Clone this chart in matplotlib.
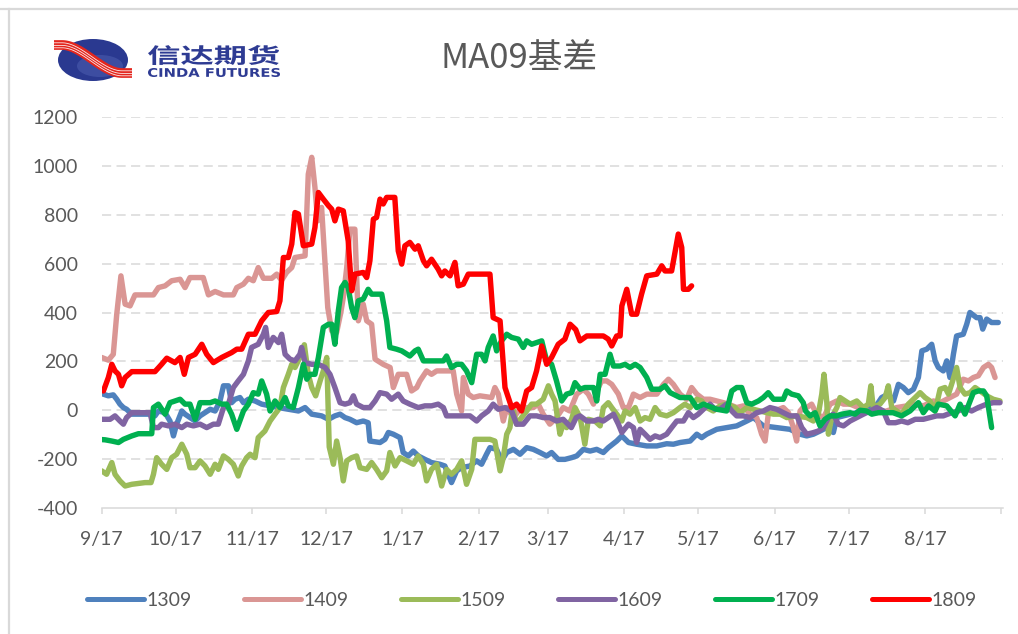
import matplotlib
matplotlib.use("Agg")
import numpy as np
import matplotlib.pyplot as plt
from matplotlib.patches import Ellipse, PathPatch
from matplotlib.textpath import TextPath
from matplotlib.font_manager import FontProperties
from matplotlib.transforms import Affine2D

plt.rcParams['font.family'] = ['Lato', 'DejaVu Sans']
plt.rcParams['axes.unicode_minus'] = False

# x = days after 9/17, y = basis
month_ticks = [0, 30, 61, 91, 122, 153, 181, 212, 242, 273, 303, 334, 365]
month_labels = ['9/17', '10/17', '11/17', '12/17', '1/17', '2/17', '3/17',
                '4/17', '5/17', '6/17', '7/17', '8/17', '']

s1309 = [(0, 68), (2.7, 59), (4.7, 63), (6.1, 45), (7.4, 25), (8.8, 11), (10.1, 4), (12.2, -16),
         (19.6, -16), (21.6, -23), (23, -3), (25.7, -10), (27.7, -44), (29.1, -105), (30.4, -57),
         (32.5, -3), (33.8, -16), (37.9, -44), (39.9, -23), (41.9, -10), (44, 4), (46, -3), (48, 38),
         (49.4, 100), (51.4, 100), (52.7, 31), (54.1, 45), (56.1, 52), (57.5, 31), (59.5, 45),
         (62.2, 38), (64.9, 25), (68.3, 18), (71.7, 11), (75.7, 4), (79.8, -3), (82.5, 11),
         (85.2, -16), (89.2, -23), (92, -37), (94.6, -23), (96.7, -16), (98.7, -30), (100.7, -37),
         (103.4, -51), (106.1, -44), (108.1, -51), (108.8, -126), (112.9, -132), (114.9, -119),
         (116.3, -91), (118.3, -98), (121, -112), (122.3, -173), (124.4, -187), (126.4, -167),
         (128.4, -187), (131.1, -201), (133.8, -214), (137.2, -221), (139.2, -228), (141.9, -296),
         (144, -248), (146, -235), (149.4, -228), (152.1, -207), (154.1, -221), (156.1, -180),
         (157.5, -153), (160.2, -160), (162.2, -207), (164.3, -173), (167, -160), (169.7, -180),
         (172.4, -153), (175.1, -160), (177.8, -173), (180.5, -187), (182.5, -173), (185.2, -201),
         (187.9, -201), (190.6, -194), (192.7, -187), (195.4, -160), (198.1, -167), (200.8, -160),
         (203.5, -173), (205.5, -153), (208.9, -126), (211, -105), (213.7, -132), (217, -139),
         (221.1, -146), (225.2, -146), (229.2, -137), (231.9, -139), (234.6, -132), (238.7, -126),
         (241.4, -98), (243.4, -112), (245.4, -98), (249.5, -78), (253.5, -71), (257.6, -64),
         (261.7, -44), (264.4, -30), (268.4, -64), (273.8, -71), (279.2, -78), (283.3, -98),
         (286, -105), (288.7, -98), (291.4, -85), (294.1, -71), (296.8, -91), (298.2, -30),
         (300.9, -23), (303.6, -16), (306.3, -10), (309, 11), (313.7, 11), (316.4, 52), (319.1, 66),
         (321.2, 38), (323.2, 106), (325.2, 93), (327.2, 72), (329.3, 86), (331.3, 134),
         (332.7, 243), (334.7, 250), (336.7, 270), (338.1, 202), (339.4, 175), (341.4, 161),
         (342.8, 202), (344.1, 134), (345.5, 229), (346.8, 304), (349.5, 311), (350.9, 352),
         (352.2, 400), (354.9, 379), (356.3, 379), (357.4, 332), (359, 373), (361, 359), (363.7, 359)]

s1409 = [(0, 216), (2.7, 205), (4.7, 229), (6.1, 393), (7.8, 550), (9.5, 434), (11.5, 427),
         (13.5, 472), (21, 472), (23, 502), (25.7, 509), (28.4, 530), (31.8, 536), (33.8, 502),
         (35.8, 543), (41.2, 543), (43.3, 472), (46, 486), (49.4, 472), (53.4, 472), (54.8, 502),
         (57.5, 516), (59.5, 540), (61.5, 530), (63.5, 584), (65.6, 540), (69, 540), (71, 557),
         (73, 532), (75, 564), (77.1, 584), (78.4, 625), (82.5, 632), (83.8, 966), (85.2, 1035),
         (86.5, 912), (87.6, 775), (89.2, 830), (90.3, 652), (91.7, 420), (93.3, 325), (95.3, 318),
         (97, 400), (98, 461), (99.4, 584), (100.7, 741), (102.7, 741), (104.1, 366), (106.1, 434),
         (107.5, 366), (109.5, 352), (110.9, 209), (114.2, 188), (117, 175), (118.3, 93),
         (120.3, 147), (123.7, 147), (125.7, 79), (127.8, 93), (129.1, 120), (131.8, 161),
         (133.8, 147), (135.9, 161), (142.6, 161), (144, 66), (146, -3), (146.7, 134), (148.7, 66),
         (150.7, 52), (153.4, 59), (158.2, 52), (159.5, 93), (160.9, 66), (162.9, -44), (164.3, 11),
         (167, -30), (170.3, 11), (175.1, 11), (177.1, 25), (179.1, -16), (181.8, -57), (184.5, -30),
         (187.2, 11), (189.9, -3), (192.7, 66), (195.4, 86), (197.4, 66), (199.5, 25), (201.5, 93),
         (202.8, 120), (204.9, 120), (206.9, 106), (209.6, 66), (211.6, 11), (213.7, 11),
         (215.7, 66), (218.4, 52), (221.1, 66), (225.2, 66), (227.9, 106), (229.9, 127),
         (231.9, 106), (234.6, 66), (237.3, 45), (239.3, 93), (241.4, 66), (244.1, 45), (246.8, 45),
         (249.5, 38), (252.2, 31), (254.2, 25), (257.6, 11), (260.3, 18), (263, -16), (265.7, -30),
         (267.7, -98), (269.1, -126), (270.4, -16), (273.1, -3), (276.5, 11), (278.6, -10),
         (280.6, -71), (281.9, -126), (283.3, -3), (284.5, 11), (286, 11), (288, 25), (290, -16),
         (292.8, -30), (295.5, 25), (298.2, 38), (300.9, 25), (303.6, 25), (307, 11), (310.3, -3),
         (314.4, -10), (318.4, -3), (322.5, 11), (326.6, 18), (330, 25), (333.3, 18), (337.4, 38),
         (340.1, 31), (344.1, 52), (346.8, 66), (349.5, 127), (351.6, 120), (353.6, 134),
         (355.6, 141), (357.7, 175), (359.7, 188), (361, 175), (362.4, 134)]

s1509 = [(0, -248), (2, -262), (4.1, -214), (5.4, -262), (7.4, -289), (9.5, -310), (12.2, -303),
         (17.6, -296), (20, -296), (21, -262), (22.3, -194), (24.3, -221), (26.4, -242),
         (28.4, -194), (30.4, -180), (32.5, -139), (34.5, -180), (35.8, -235), (37.9, -235),
         (39.9, -207), (41.9, -228), (44, -262), (46, -221), (47.3, -242), (49.4, -187),
         (51.4, -201), (53.4, -221), (55.4, -269), (56.8, -228), (58.8, -194), (60.2, -180),
         (62.2, -194), (63.5, -112), (66.2, -85), (68.3, -44), (70.3, -16), (72.3, 11), (73.7, 93),
         (75.7, 147), (77.1, 188), (78.4, 175), (80.4, 216), (82.2, 268), (83.8, 147), (85.2, 93),
         (86.8, 59), (88.6, 120), (89.9, 161), (91.3, 216), (92.3, -150), (94, -221), (95.3, -126),
         (96.7, -194), (98, -289), (99.4, -207), (101.4, -194), (103.4, -187), (104.8, -235),
         (107.5, -242), (109.5, -214), (111.5, -242), (113.6, -276), (115.6, -248), (116.9, -173),
         (119, -228), (121, -194), (123.7, -207), (126.4, -221), (128.4, -187), (130.5, -221),
         (131.8, -289), (133.8, -242), (135.9, -221), (137.9, -310), (139.9, -242), (141.9, -262),
         (144, -242), (146, -207), (148, -303), (150.1, -242), (151.4, -119), (157.5, -119),
         (159.5, -126), (161.6, -248), (162.9, -194), (164.3, -98), (165.6, -71), (166.7, 11),
         (168.3, -57), (170.3, -30), (172.4, -3), (174.4, 25), (176.4, 25), (179.1, 45),
         (181.2, 100), (182.5, 66), (183.9, 38), (185.9, -98), (187.2, -57), (188.6, -71),
         (190.6, -37), (192, 11), (194.1, -30), (196, -139), (197.4, -37), (200.1, -44),
         (202.2, -64), (203.5, 11), (205.5, 31), (206.9, 11), (208.9, -16), (211, -44), (212.3, -3),
         (214.3, -16), (216.4, 11), (218.4, -44), (220.4, -30), (222.4, -37), (224.5, 11),
         (226.5, -16), (229.2, -23), (231.9, -10), (234.6, 11), (236.6, 25), (238.7, 11),
         (241.4, 45), (243.4, 38), (245.4, 11), (248.1, -3), (250.8, 18), (253.5, 25), (256.9, 11),
         (259, -10), (261.7, 11), (264.4, 4), (267.1, -3), (269.8, -10), (272.5, -16), (275.2, -16),
         (277.9, -30), (281.9, -23), (286, -30), (288.7, -44), (290.7, -16), (292.1, 66), (293, 147),
         (294.1, 38), (294.8, -98), (296.1, -30), (298.2, 11), (299.5, 52), (301.6, 38), (303.6, 25),
         (306.3, 38), (309, 11), (311, 25), (312, 100), (313, 11), (315.7, 25), (317.8, 52),
         (319.1, 100), (320.5, 11), (322.5, -3), (324.5, -16), (327.2, 25), (330, 52), (332, 72),
         (334, 52), (336, 38), (338.1, -3), (340.1, 86), (342.1, 93), (343.5, 66), (345.2, 120),
         (346.8, 175), (348.2, 93), (350.2, 66), (352.3, 72), (354.3, 93), (356.3, 79), (359, 59),
         (361.7, 45), (364.4, 38)]

s1609 = [(0, -37), (3.4, -37), (5.4, -23), (7.4, -44), (8.8, -57), (10.1, -30), (12.2, -10),
         (19.6, -10), (21, -71), (23, -71), (24.3, -57), (27.1, -64), (29.7, -57), (32.5, -71),
         (34.5, -57), (37.2, -64), (39.9, -57), (42.6, -71), (45.3, -57), (47.3, -57), (49.4, 11),
         (51.4, 25), (53.4, 93), (55.4, 120), (57.5, 147), (59.5, 202), (60.8, 257), (63.5, 270),
         (65.6, 311), (66.5, 339), (67.6, 257), (69.6, 298), (71.7, 277), (73, 311), (74.4, 229),
         (76.4, 209), (78.4, 202), (80.4, 229), (81.1, 257), (82.5, 195), (85.2, 188), (87.9, 188),
         (90.6, 175), (92.6, 147), (94.6, 93), (96.7, 31), (98.7, 25), (100.7, 31), (102.1, 59),
         (103.4, 25), (106.1, 11), (108.8, 11), (110.9, 38), (112.9, 72), (115.6, 66), (117.6, 45),
         (120.3, 66), (122.3, 38), (125, 25), (128.4, 11), (131.1, 18), (133.8, 18), (136.5, 25),
         (138.6, 11), (139.9, -23), (149.4, -23), (152.1, -44), (154.1, -23), (156.8, -3),
         (158.8, 25), (160.9, 4), (163.6, 11), (166.3, -3), (168.3, -57), (171, -57), (173.7, -23),
         (176.4, -23), (179.1, -30), (181.8, -30), (184.5, -44), (187.2, -37), (190.5, -71),
         (192.5, -30), (194, -23), (196.8, -44), (199.5, -44), (201.5, -37), (203.5, -44),
         (205.5, -30), (207.6, -16), (209.6, -57), (211, -91), (213.7, -57), (215.7, -71),
         (217, -132), (218.4, -78), (220.4, -98), (222.4, -119), (224.5, -105), (226.5, -112),
         (229.2, -98), (231.2, -71), (233.3, -44), (236, -44), (238, -10), (240, -30), (242, -16),
         (244.8, 11), (246.8, 25), (248.8, 4), (250.8, 4), (253.5, 25), (255.6, -3), (257.6, -23),
         (260.3, -23), (263, -30), (265.7, -10), (268.4, -3), (271.1, 11), (273.8, 4), (276.5, -10),
         (279.2, -23), (282, -23), (284, -71), (286, -98), (288.5, -92), (290.7, -85), (292.8, -71),
         (294.8, -30), (296.8, -16), (298.8, -57), (300.9, -64), (303.6, -44), (306.3, -30),
         (309, -16), (311.7, -3), (314.4, 11), (317.1, -3), (319.1, -51), (322, -51), (324.5, -44),
         (327, -51), (330, -37), (333.3, -37), (336, -30), (338.7, -23), (341.4, -23), (344.8, -10),
         (347.5, -3), (350.2, 11), (352.9, -3), (355.6, 11), (359, 25), (361.7, 31), (364.4, 31)]

s1709 = [(0, -120), (1.4, -121), (4.1, -126), (6.8, -132), (8.8, -119), (12.2, -105), (14.9, -96),
         (20.3, -96), (21, 11), (23, 25), (25.7, -16), (27.7, 31), (31.8, 45), (33.8, 25),
         (35.8, 25), (37.9, -37), (39.9, 31), (44, 31), (46, 38), (48.7, 25), (50.7, 25),
         (52.7, -16), (54.8, -78), (57.5, -3), (59.5, 25), (61.5, 72), (63.5, 66), (64.9, 120),
         (66.9, 66), (68.3, -3), (70.3, 38), (72.3, 11), (74.4, 52), (75.7, 18), (77.7, 11),
         (79.8, 93), (81.8, 188), (83.2, 127), (84.5, 147), (86.5, 147), (87.9, 216), (89.9, 339),
         (92, 352), (93.3, 352), (94.6, 270), (96, 407), (97.3, 502), (98.7, 523), (100, 502),
         (101.4, 420), (102.7, 379), (104.1, 448), (106.1, 455), (108.1, 495), (109.5, 475),
         (113.6, 475), (115.6, 366), (116.9, 257), (119.6, 250), (121.7, 243), (125, 222),
         (127.1, 243), (128.4, 250), (130.5, 202), (138.6, 202), (139.9, 222), (141.9, 175),
         (144, 188), (146, 188), (148, 161), (150.1, 113), (152.1, 229), (154.1, 229), (155.5, 202),
         (156.8, 257), (158.8, 304), (160.2, 243), (162.2, 284), (164.3, 311), (166.3, 298),
         (169, 291), (171, 257), (172.4, 284), (174.4, 270), (176.4, 277), (178.5, 284),
         (180.5, 202), (182.5, 188), (184.5, 120), (186.6, 38), (188.6, 66), (190.6, 72), (192, 113),
         (194.1, 86), (196, 93), (199.5, 93), (200.8, 38), (202.2, 147), (204.2, 147), (206.2, 229),
         (207.6, 181), (210.3, 181), (212.3, 188), (214.3, 175), (216.4, 188), (218.4, 175),
         (221.1, 134), (223.1, 86), (226.5, 86), (228.5, 100), (230.6, 72), (234.6, 52),
         (238.7, 52), (241.4, 11), (244.1, 25), (249.5, 4), (253.5, -3), (255.6, 79), (257.6, 93),
         (259.6, 93), (261.7, 31), (263.7, 25), (266.4, 38), (268.4, 52), (270.4, 72), (272.5, 45),
         (276.5, 45), (277.9, 79), (279.9, 66), (282.6, 59), (284.6, 31), (285.5, -3),
         (287.4, -23), (289.4, -10), (291.4, -64), (293.4, -37), (295.5, -23), (298, -23),
         (300.2, -16), (303.6, -10), (305.6, -16), (307.6, 0), (310.3, -3), (312.4, -16),
         (315, -10), (318.4, -10), (321, -10), (324.5, -23), (327.9, -3), (331.3, 31), (333.3, -10),
         (335.4, 18), (338, -3), (339.4, 25), (342.8, 18), (346.2, -23), (348.2, 25), (350.2, -16),
         (352.3, 38), (353.6, 72), (355.6, 79), (357.7, 79), (359, 59), (360.4, -30), (361, -71)]

s1809 = [(0.7, 79), (2.7, 134), (4.1, 188), (5.4, 161), (6.8, 147), (8.1, 100), (9.5, 134),
         (12.2, 158), (21.6, 158), (24.3, 188), (26.4, 213), (29.7, 195), (31.8, 216), (33.5, 147),
         (35.2, 216), (37.9, 229), (40.6, 270), (42.6, 229), (45.3, 195), (48.7, 216), (52.7, 236),
         (54.8, 250), (56.8, 250), (59.5, 311), (62.2, 311), (64.9, 366), (67.6, 400), (71, 404),
         (72.3, 448), (73.7, 625), (75.7, 625), (77.1, 680), (78.4, 809), (79.8, 803), (81.8, 673),
         (85.2, 680), (86.5, 748), (87.9, 891), (89.9, 864), (92, 837), (93.3, 823), (94.6, 775),
         (96, 823), (98, 816), (100, 693), (101.4, 489), (102.7, 557), (106.1, 564), (107.5, 543),
         (108.8, 612), (110.2, 782), (111.5, 789), (112.9, 864), (114.2, 844), (115.6, 871),
         (118.9, 871), (120.3, 652), (121.7, 598), (123, 673), (125, 687), (127.1, 659),
         (128.4, 673), (130.5, 612), (131.8, 591), (133.8, 618), (136.5, 577), (137.9, 550),
         (139.2, 570), (141.3, 550), (143.3, 605), (144.6, 509), (146.7, 516), (148.7, 557),
         (157.5, 557), (158.8, 379), (161.6, 366), (163.6, 93), (166.3, 11), (168.3, 25),
         (170.3, -3), (172.4, 79), (174.4, 93), (176.4, 161), (178.5, 263), (180.5, 188),
         (182.5, 216), (185.2, 270), (187.9, 291), (190, 352), (192.3, 330), (194, 284),
         (196.8, 304), (203.5, 304), (205.5, 291), (206.9, 263), (208.9, 304), (210.3, 304),
         (211, 427), (213, 495), (215, 393), (217, 393), (219, 475), (221.1, 550), (225.2, 557),
         (227.2, 591), (228.5, 570), (231.2, 570), (233.9, 721), (235.3, 666), (236, 495),
         (238, 495), (239.3, 509)]

names = ['1309', '1409', '1509', '1609', '1709', '1809']
colors = ['#4F81BD', '#DA9694', '#9BBB59', '#8064A2', '#00B050', '#FF0000']
all_series = [s1309, s1409, s1509, s1609, s1709, s1809]

W, H = 1018, 634
fig = plt.figure(figsize=(W / 100, H / 100), dpi=100)
fig.patch.set_facecolor('white')

# overlay in pixel coords for frame + logo
ov = fig.add_axes([0, 0, 1, 1])
ov.set_xlim(0, W)
ov.set_ylim(H, 0)
ov.axis('off')
ov.plot([0, W], [9, 9], color='#d9d9d9', lw=1.6)
ov.plot([9.5, 9.5], [9, H], color='#d9d9d9', lw=1.6)


def fit_text(s, x0, y0, x1, y1, color, family, weight='bold'):
    tp = TextPath((0, 0), s, size=10, prop=FontProperties(family=family, weight=weight))
    bb = tp.get_extents()
    tr = Affine2D().translate(-bb.x0, -bb.y0).scale((x1 - x0) / bb.width, -(y1 - y0) / bb.height).translate(x0, y1)
    ov.add_patch(PathPatch(tr.transform_path(tp), fc=color, ec='none'))


ov.add_patch(Ellipse((93, 60), 70, 42, fc='#2a3990', ec='none'))
ov.add_patch(Ellipse((100, 66), 46, 22, fc='#4a5cae', ec='none', alpha=0.6))
sx = np.linspace(54, 132, 60)
t = np.clip((sx - 62) / 60, 0, 1)
sy = 45 + 28 * (3 * t ** 2 - 2 * t ** 3)
ov.plot(sx, sy, color='#e3261e', lw=7, solid_capstyle='butt')
for off in (-2.2, 0.4, 2.8):
    ov.plot(sx, sy + off, color='white', lw=0.6, alpha=0.9)
fit_text('信达期货', 148, 45, 279, 65, '#2e3b93', 'Noto Sans CJK SC')
fit_text('CINDA FUTURES', 148, 68, 280, 77, '#2e3b93', 'DejaVu Sans')

fig.text(519 / W, 1 - 58 / H, 'MA09基差', ha='center', va='center', fontsize=25,
         color='#595959', family=['Noto Sans CJK SC', 'DejaVu Sans'])

ax = fig.add_axes([101.7 / W, 1 - 508 / H, 901 / W, 391 / H])
ax.set_facecolor('none')
for name, pts, c in zip(names, all_series, colors):
    d, v = zip(*pts)
    ax.plot(d, v, color=c, lw=3.9, solid_joinstyle='round', solid_capstyle='round', label=name)

ax.set_xlim(0, 365.5)
ax.set_ylim(-400, 1200)
ax.set_yticks(range(-400, 1201, 200))
for y in range(-200, 1201, 200):
    ax.axhline(y, color='#d9d9d9', lw=1.1, ls=(0, (6, 3.5)), zorder=0)
ax.set_xticks(month_ticks)
ax.set_xticklabels(month_labels)
for s in ['top', 'right', 'left']:
    ax.spines[s].set_visible(False)
ax.spines['bottom'].set_color('#d9d9d9')
ax.spines['bottom'].set_linewidth(1.1)
ax.tick_params(axis='y', length=0, pad=17, labelsize=14, labelcolor='#595959')
ax.tick_params(axis='x', length=4.3, width=1.1, color='#d9d9d9', pad=12, labelsize=14,
               labelcolor='#595959')

leg = fig.legend(*ax.get_legend_handles_labels(), loc='center', bbox_to_anchor=(532 / W, 1 - 600 / H),
                 ncol=6, frameon=False, fontsize=14, handlelength=2.9, handletextpad=0.15,
                 columnspacing=2.7, labelcolor='#595959')
for h in leg.get_lines():
    h.set_linewidth(3.6)

fig.savefig('out.png', dpi=100, facecolor='white')
